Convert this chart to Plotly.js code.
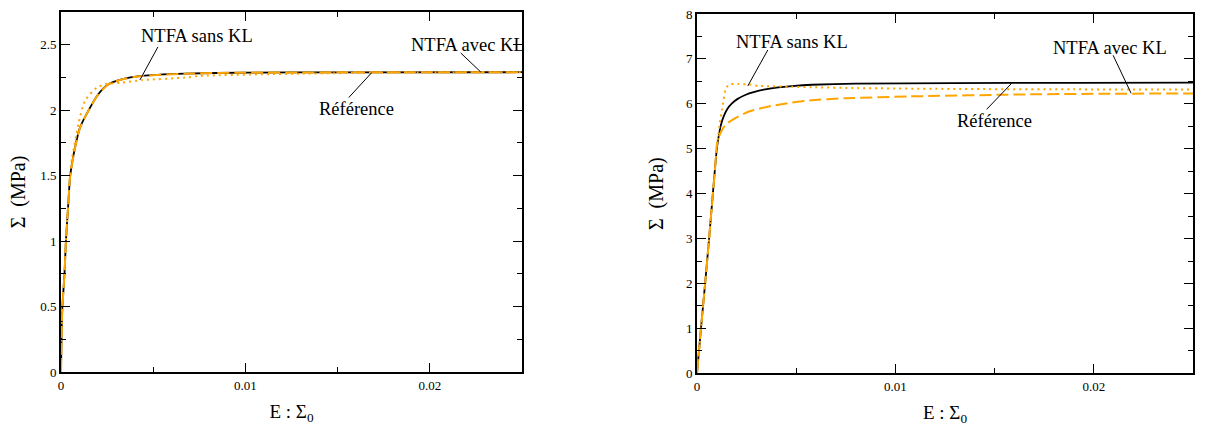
<!DOCTYPE html>
<html>
<head>
<meta charset="utf-8">
<script src="https://cdn.plot.ly/plotly-3.0.1.min.js"></script>
<style>html,body{margin:0;padding:0;background:#fff;}#chart{width:1221px;height:428px;}</style>
</head>
<body>
<div id="chart"></div>
<script>
// ---- Left panel data (E : Sigma0 vs Sigma, MPa) ----
const leftRefX = [0, 0.000033, 0.000076, 0.00019, 0.000266, 0.00038, 0.0005, 0.00076, 0.00103, 0.00148, 0.00202, 0.00257, 0.00329, 0.00438, 0.00672, 0.01, 0.015, 0.025];
const leftRefY = [0, 0.3, 0.5, 0.75, 1.0, 1.25, 1.5, 1.715, 1.867, 1.995, 2.122, 2.198, 2.236, 2.262, 2.279, 2.287, 2.289, 2.29];
const leftSansX = [0, 0.000033, 0.000076, 0.00019, 0.000266, 0.00038, 0.00049, 0.00058, 0.00094, 0.0013, 0.00194, 0.00239, 0.00329, 0.00438, 0.00672, 0.00754, 0.01296, 0.01838, 0.025];
const leftSansY = [0, 0.3, 0.5, 0.75, 1.0, 1.26, 1.512, 1.614, 1.893, 2.071, 2.172, 2.198, 2.21, 2.229, 2.249, 2.262, 2.279, 2.287, 2.29];
const leftAvecX = [0, 0.000033, 0.000076, 0.00019, 0.000266, 0.00038, 0.0005, 0.00076, 0.00103, 0.00148, 0.00202, 0.00257, 0.00329, 0.00438, 0.00672, 0.01, 0.015, 0.025];
const leftAvecY = [0, 0.3, 0.5, 0.75, 1.0, 1.25, 1.5, 1.71, 1.865, 1.993, 2.12, 2.197, 2.235, 2.261, 2.279, 2.287, 2.289, 2.29];

// ---- Right panel data ----
const rightRefX = [0, 0.0002, 0.00041, 0.00061, 0.0008, 0.0009, 0.001, 0.00109, 0.0012, 0.00134, 0.00152, 0.00176, 0.00205, 0.00243, 0.00290, 0.00344, 0.00410, 0.00478, 0.00579, 0.0080, 0.0129, 0.019, 0.025];
const rightRefY = [0, 1, 2, 3, 4, 4.527, 5.0, 5.27, 5.52, 5.714, 5.88, 6.01, 6.11, 6.197, 6.265, 6.32, 6.365, 6.395, 6.425, 6.45, 6.462, 6.467, 6.47];
const rightSansX = [0, 0.0002, 0.00041, 0.00061, 0.0008, 0.0009, 0.00099, 0.00108, 0.00117, 0.00126, 0.00134, 0.00143, 0.0016, 0.0021, 0.00261, 0.00311, 0.00478, 0.00579, 0.0081, 0.0132, 0.019, 0.025];
const rightSansY = [0, 1, 2, 3, 4, 4.55, 5.0, 5.33, 5.64, 5.86, 6.085, 6.31, 6.43, 6.44, 6.43, 6.40, 6.38, 6.37, 6.35, 6.33, 6.322, 6.32];
const rightAvecX = [0, 0.0002, 0.00041, 0.00061, 0.0008, 0.0009, 0.00101, 0.00117, 0.00143, 0.00193, 0.00261, 0.00361, 0.00478, 0.00563, 0.0075, 0.0107, 0.0166, 0.021, 0.025];
const rightAvecY = [0, 1, 2, 3, 4, 4.5, 5.12, 5.34, 5.53, 5.68, 5.83, 5.94, 6.03, 6.075, 6.125, 6.165, 6.21, 6.225, 6.23];

const ORANGE = '#FFA500';
const FONT = "'Liberation Serif', 'Times New Roman', Times, serif";

const traces = [
  {x: leftRefX, y: leftRefY, xaxis: 'x', yaxis: 'y', name: 'Référence', mode: 'lines', line: {color: '#000', width: 1.8, shape: 'spline', smoothing: 0.6}},
  {x: leftSansX, y: leftSansY, xaxis: 'x', yaxis: 'y', name: 'NTFA sans KL', mode: 'lines', line: {color: ORANGE, width: 2, dash: '2px,4px', shape: 'spline', smoothing: 0.6}},
  {x: leftAvecX, y: leftAvecY, xaxis: 'x', yaxis: 'y', name: 'NTFA avec KL', mode: 'lines', line: {color: ORANGE, width: 2, dash: '12px,5px', shape: 'spline', smoothing: 0.6}},
  {x: rightRefX, y: rightRefY, xaxis: 'x2', yaxis: 'y2', name: 'Référence', mode: 'lines', line: {color: '#000', width: 1.8, shape: 'spline', smoothing: 0.5}},
  {x: rightSansX, y: rightSansY, xaxis: 'x2', yaxis: 'y2', name: 'NTFA sans KL', mode: 'lines', line: {color: ORANGE, width: 2, dash: '2px,4px', shape: 'spline', smoothing: 0.5}},
  {x: rightAvecX, y: rightAvecY, xaxis: 'x2', yaxis: 'y2', name: 'NTFA avec KL', mode: 'lines', line: {color: ORANGE, width: 2, dash: '12px,5px', shape: 'spline', smoothing: 0.5}}
];

const titleFontY = {family: FONT, size: 20, color: '#000'};
const titleFontX = {family: FONT, size: 19, color: '#000'};

function axisBase(extra) {
  return Object.assign({
    showline: true, linecolor: '#000', linewidth: 2, mirror: 'ticks',
    ticks: 'inside', ticklen: 9, tickwidth: 1, tickcolor: '#000',
    showgrid: false, zeroline: false, fixedrange: true, automargin: false,
    tickfont: {family: FONT, size: 13, color: '#000'}
  }, extra);
}
const minorX = {ticks: 'inside', ticklen: 5, tickwidth: 1, tickcolor: '#000', dtick: 0.005};

const W = 1221, H = 428;
const layout = {
  width: W, height: H,
  margin: {l: 0, r: 0, t: 0, b: 0},
  paper_bgcolor: '#fff', plot_bgcolor: '#fff',
  showlegend: false,
  font: {family: FONT, color: '#000'},
  xaxis: axisBase({domain: [61 / W, 522 / W], range: [0, 0.025], dtick: 0.01, tick0: 0, minor: minorX, anchor: 'y',
    title: {text: 'E : Σ<sub>0</sub>', font: titleFontX, standoff: 13}}),
  yaxis: axisBase({domain: [1 - 372 / H, 1 - 12 / H], range: [0, 2.75], dtick: 0.5, tick0: 0,
    minor: {ticks: 'inside', ticklen: 5, tickwidth: 1, tickcolor: '#000', dtick: 0.25}, anchor: 'x',
    title: {text: 'Σ\u00A0\u00A0(MPa)', font: titleFontY, standoff: 9}}),
  xaxis2: axisBase({domain: [697 / W, 1193 / W], range: [0, 0.025], dtick: 0.01, tick0: 0, minor: minorX, anchor: 'y2',
    title: {text: 'E : Σ<sub>0</sub>', font: titleFontX, standoff: 13}}),
  yaxis2: axisBase({domain: [1 - 373.3 / H, 1 - 14 / H], range: [0, 8], dtick: 1, tick0: 0,
    minor: {ticks: 'inside', ticklen: 5, tickwidth: 1, tickcolor: '#000', dtick: 0.5}, anchor: 'x2',
    title: {text: 'Σ\u00A0\u00A0(MPa)', font: titleFontY, standoff: 17}}),
  annotations: [],
  shapes: []
};

const labelFont = {family: FONT, size: 18.5, color: '#000'};
function label(xref, yref, x, y, text) {
  return {xref: xref, yref: yref, x: x, y: y, text: text, showarrow: false, font: labelFont, xanchor: 'center', yanchor: 'middle'};
}
// pointer line: anchored at the curve point, extends dx,dy pixels (dy positive = up)
function pointer(xref, yref, x, y, dx, dy) {
  return {type: 'line', xref: xref, yref: yref, xsizemode: 'pixel', ysizemode: 'pixel',
    xanchor: x, yanchor: y, x0: 0, y0: 0, x1: dx, y1: dy, line: {color: '#000', width: 1}};
}

layout.annotations.push(
  label('x', 'y', 0.00738, 2.566, 'NTFA sans KL'),
  label('x', 'y', 0.02209, 2.495, 'NTFA avec KL'),
  label('x', 'y', 0.0160, 2.008, 'Référence'),
  label('x2', 'y2', 0.00481, 7.384, 'NTFA sans KL'),
  label('x2', 'y2', 0.02084, 7.237, 'NTFA avec KL'),
  label('x2', 'y2', 0.01500, 5.618, 'Référence')
);
layout.shapes.push(
  pointer('x', 'y', 0.00428, 2.231, 18, 33),
  pointer('x', 'y', 0.02276, 2.292, -20, 19),
  pointer('x', 'y', 0.01685, 2.287, -23, -25),
  pointer('x2', 'y2', 0.00256, 6.397, 20, 36),
  pointer('x2', 'y2', 0.02188, 6.235, -18, 38),
  pointer('x2', 'y2', 0.01586, 6.457, -25, -26)
);

Plotly.newPlot('chart', traces, layout, {staticPlot: true, displayModeBar: false});
</script>
</body>
</html>
